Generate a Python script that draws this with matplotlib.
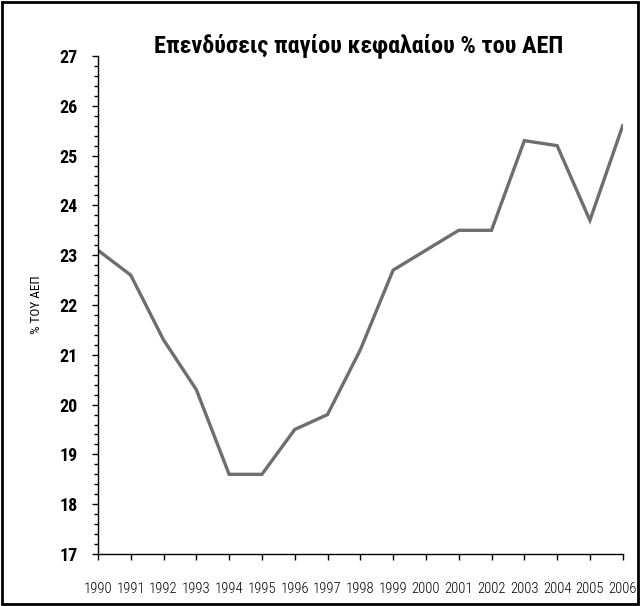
import matplotlib
matplotlib.use("Agg")
import matplotlib.pyplot as plt
from matplotlib.patches import Rectangle
from matplotlib.ticker import MultipleLocator
from matplotlib import font_manager

years = list(range(1990, 2007))
values = [23.1, 22.6, 21.3, 20.3, 18.6, 18.6, 19.5, 19.8, 21.1, 22.7, 23.1, 23.5, 23.5, 25.3, 25.2, 23.7, 25.6]
title = "Επενδύσεις παγίου κεφαλαίου % του ΑΕΠ"
ylabel = "% ΤΟΥ ΑΕΠ"

available = {f.name for f in font_manager.fontManager.ttflist}
candidates = ['Liberation Sans Narrow', 'Roboto Condensed', 'Open Sans Condensed',
              'Noto Sans Condensed', 'DejaVu Sans Condensed', 'DejaVu Sans']
fam = [c for c in candidates if c in available][0]
plt.rcParams['font.family'] = [fam, 'DejaVu Sans']

fig = plt.figure(figsize=(6.4, 6.06), dpi=100)
ax = fig.add_axes([0.153, 0.0858, 0.820, 0.8218])
ax.plot(years, values, color='#6e6e6e', linewidth=2.4, solid_joinstyle='miter')
ax.set_xlim(1990, 2006)
ax.set_ylim(17, 27)
ax.set_xticks(years)
ax.set_xticklabels([str(y) for y in years], fontsize=10.5, fontstretch='condensed',
                   fontweight='light')
ax.yaxis.set_major_locator(MultipleLocator(1))
ax.yaxis.set_minor_locator(MultipleLocator(0.2))
for lab in ax.get_yticklabels():
    lab.set_fontweight('bold')
    lab.set_fontsize(13)
    lab.set_fontstretch('condensed')
ax.tick_params(axis='y', which='major', length=4.5, width=1, pad=10)
ax.tick_params(axis='y', which='minor', length=3.2, width=1)
ax.tick_params(axis='x', which='major', length=4, width=1, pad=16)
for s in ['top', 'right']:
    ax.spines[s].set_visible(False)
for s in ['left', 'bottom']:
    ax.spines[s].set_linewidth(1)
ax.set_ylabel(ylabel, fontsize=9.5, labelpad=12, fontstretch='condensed')
fig.text(0.56, 0.925, title, ha='center', va='center', fontsize=17.5, fontweight='bold',
         fontstretch='condensed')
fig.patches.append(Rectangle((0.003, 0.003), 0.994, 0.994, transform=fig.transFigure,
                             fill=False, edgecolor='black', linewidth=2))
fig.savefig('out.png', dpi=100)
